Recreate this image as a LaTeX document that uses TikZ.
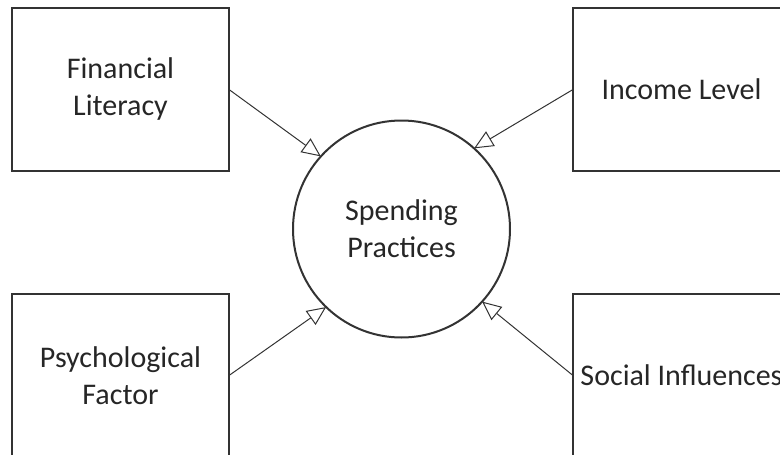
\documentclass[tikz,border=0pt]{standalone}
\usepackage{fontspec}
\setmainfont{Carlito}
\usetikzlibrary{arrows.meta}
\begin{document}
\begin{tikzpicture}[x=1pt,y=-1pt,
  every node/.style={font=\fontsize{30}{37}\selectfont, text=black!85, align=center},
  factor/.style={draw=black!80, line width=2pt, minimum width=217pt, minimum height=163pt, inner sep=0pt, outer sep=0pt},
  outcome/.style={draw=black!80, line width=2pt, circle, minimum size=217pt, inner sep=0pt, outer sep=0pt},
  link/.style={draw=black!80, line width=1pt, -{Triangle[open, length=19pt, width=17pt, fill=white]}}]
  % page frame, the right and bottom boxes run past it
  \useasboundingbox (0,0) rectangle (780,455);
  \node[outcome] (sp) at (401.5,229) {Spending\\Practices};
  \node[factor] (fl) at (120.5,89.5) {Financial\\Literacy};
  \node[factor] (il) at (681.5,89.5) {Income Level};
  \node[factor] (pf) at (120.5,375.5) {Psychological\\Factor};
  \node[factor] (si) at (681.5,375.5) {Social Influences};
  \draw[link] (fl.east) -- (sp.138.7);
  \draw[link] (il.west) -- (sp.48.7);
  \draw[link] (pf.east) -- (sp.226.8);
  \draw[link] (si.west) -- (sp.318.3);
\end{tikzpicture}
\end{document}
